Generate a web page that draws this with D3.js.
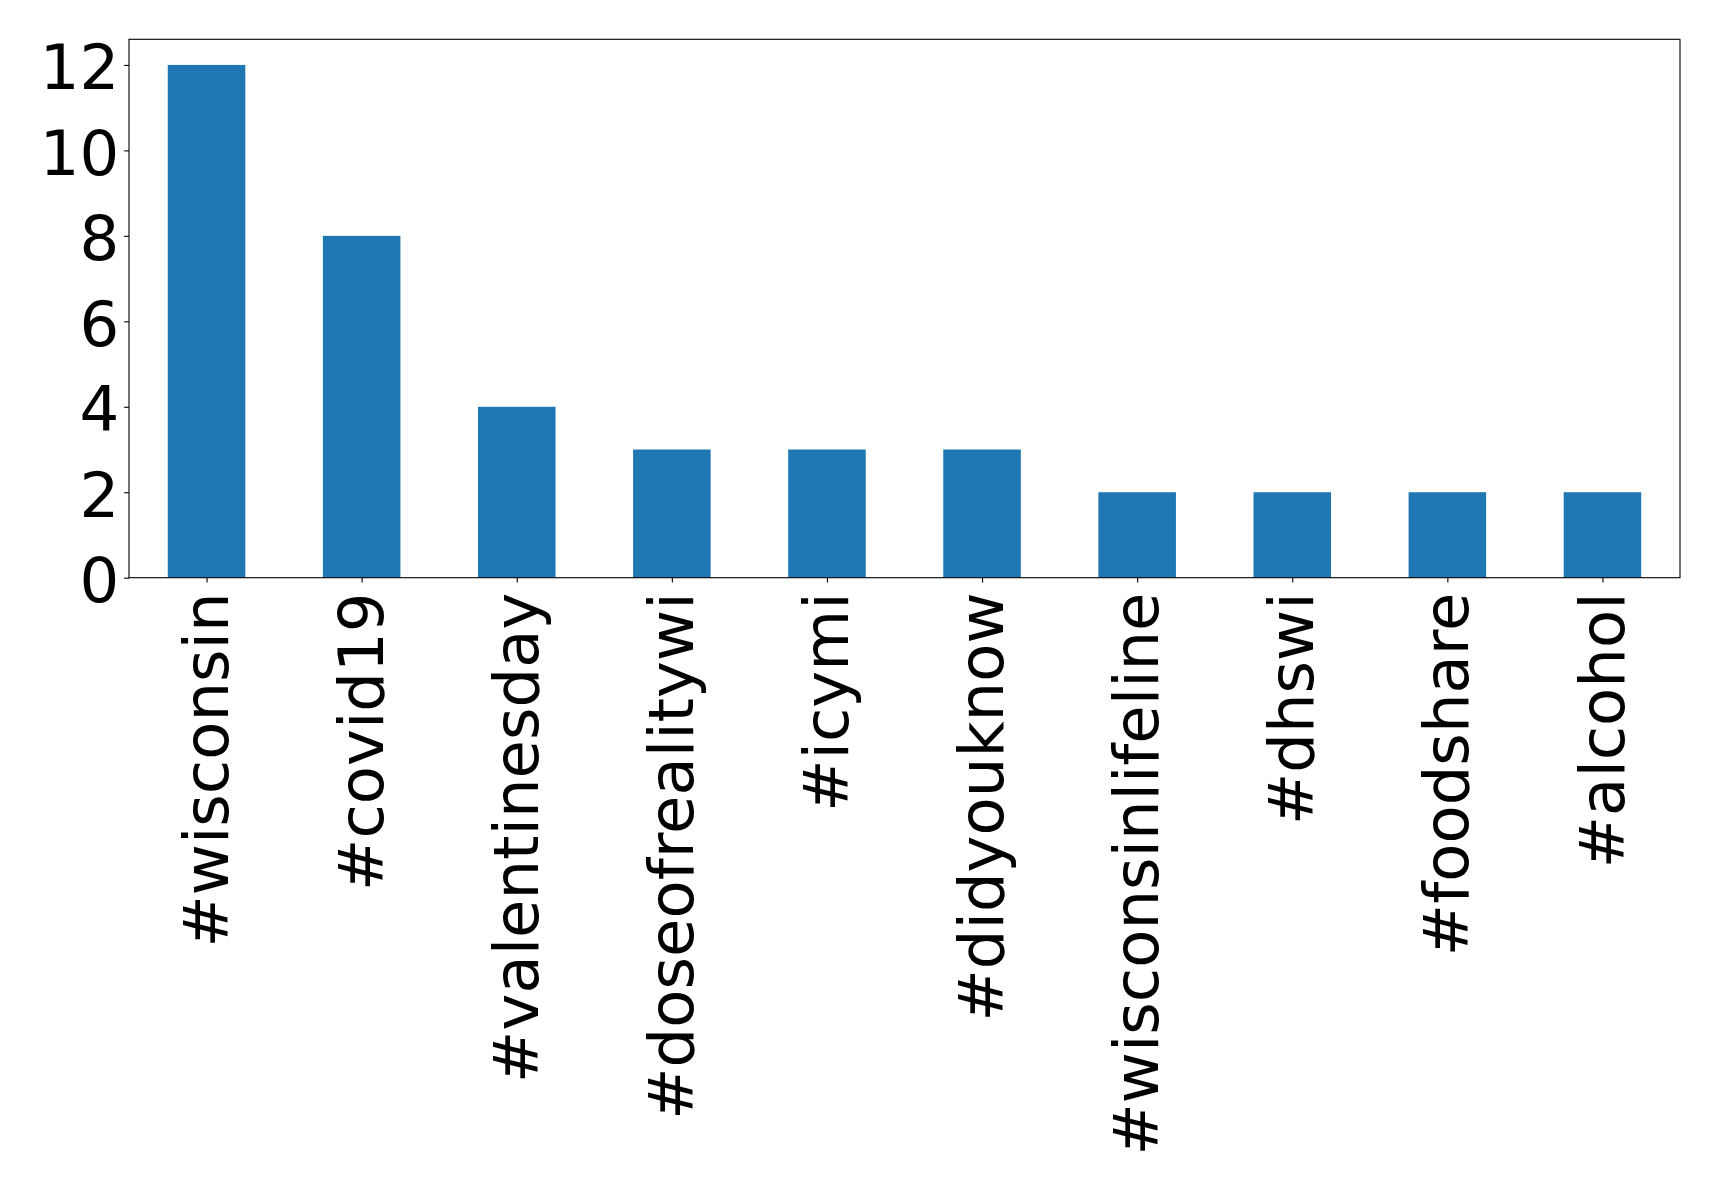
<!DOCTYPE html>
<html>
<head>
<meta charset="utf-8">
<script src="https://cdn.jsdelivr.net/npm/d3@7"></script>
<style>
  html, body { margin: 0; padding: 0; background: #fff; }
  svg { display: block; }
</style>
</head>
<body>
<svg id="chart" width="1719" height="1191"></svg>
<script>
const categories = ["#wisconsin", "#covid19", "#valentinesday", "#doseofrealitywi", "#icymi", "#didyouknow", "#wisconsinlifeline", "#dhswi", "#foodshare", "#alcohol"];
const counts = [12, 8, 4, 3, 3, 3, 2, 2, 2, 2];
const yTicks = [0, 2, 4, 6, 8, 10, 12];

const W = 1719, H = 1191;
const margin = { left: 129, top: 39.3, right: W - 1680, bottom: H - 577.7 };
const fontSize = 62.5;
const tickLen = 4.86, tickPad = 4.86;

const svg = d3.select("#chart");
const x = d3.scaleLinear().domain([-0.5, categories.length - 0.5]).range([margin.left, W - margin.right]);
const y = d3.scaleLinear().domain([0, 12.6]).range([H - margin.bottom, margin.top]);
const barW = x(0.5) - x(0);

// bars
svg.append("g").selectAll("rect").data(counts).join("rect")
  .attr("x", (d, i) => x(i) - barW / 2)
  .attr("y", d => y(d))
  .attr("width", barW)
  .attr("height", d => y(0) - y(d))
  .attr("fill", "#1f77b4");

// frame
svg.append("rect")
  .attr("x", x(-0.5)).attr("y", y(12.6))
  .attr("width", x(categories.length - 0.5) - x(-0.5))
  .attr("height", y(0) - y(12.6))
  .attr("fill", "none").attr("stroke", "#000").attr("stroke-width", 1.1);

// y axis
const yAxis = svg.append("g").attr("transform", `translate(${margin.left},0)`)
  .call(d3.axisLeft(y).tickValues(yTicks).tickSize(tickLen).tickPadding(tickPad).tickFormat(d3.format("d")));
yAxis.select(".domain").remove();
yAxis.selectAll(".tick line").attr("stroke", "#000").attr("stroke-width", 1.1);
yAxis.selectAll(".tick text")
  .attr("font-family", "'DejaVu Sans', sans-serif")
  .attr("font-size", fontSize)
  .attr("fill", "#000")
  .attr("dy", 0)
  .attr("y", 24);

// x axis
const xAxis = svg.append("g").attr("transform", `translate(0,${H - margin.bottom})`)
  .call(d3.axisBottom(x).tickValues(d3.range(categories.length)).tickSize(tickLen).tickFormat(i => categories[i]));
xAxis.select(".domain").remove();
xAxis.selectAll(".tick line").attr("stroke", "#000").attr("stroke-width", 1.1);
xAxis.selectAll(".tick text")
  .attr("font-family", "'DejaVu Sans', sans-serif")
  .attr("font-size", fontSize)
  .attr("fill", "#000")
  .attr("text-anchor", "end")
  .attr("transform", `translate(0,${tickLen + tickPad + 5}) rotate(-90)`)
  .attr("x", 0)
  .attr("y", 0)
  .attr("dy", 20.6);
</script>
</body>
</html>
